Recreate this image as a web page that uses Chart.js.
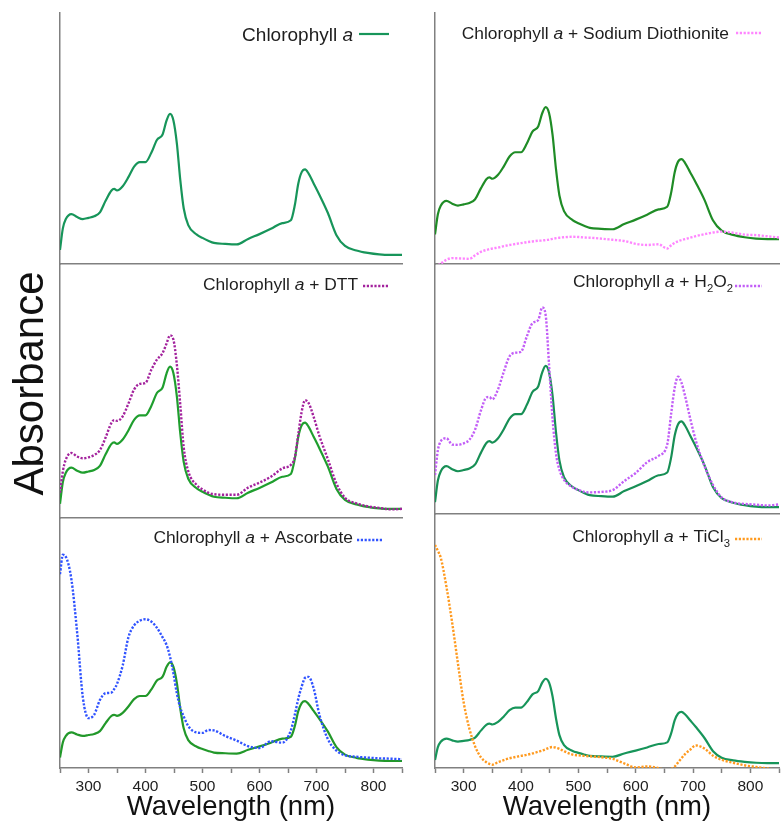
<!DOCTYPE html>
<html>
<head>
<meta charset="utf-8">
<title>Chlorophyll a absorbance spectra</title>
<script src="https://cdn.jsdelivr.net/npm/chart.js@4.4.1/dist/chart.umd.min.js"></script>
<style>
  html, body { margin: 0; padding: 0; background: #fff; }
  #figure { position: relative; width: 781px; height: 824px; overflow: hidden; }
  .panel { position: absolute; }
</style>
</head>
<body>
<div id="figure"></div>
<script>
// wavelength grid (nm) shared by every spectrum
const wavelengths = [
  250, 255, 260, 270, 280, 290, 300, 310, 320, 330,
  340, 345, 350, 360, 370, 380, 390, 400, 410, 420,
  430, 437, 443, 449, 455, 461, 467, 475, 490, 500,
  510, 520, 540, 560, 580, 600, 620, 640, 655, 662,
  668, 674, 680, 686, 695, 705, 720, 735, 750, 770,
  790, 810, 830, 850
];

// chlorophyll a alone (plotted in every panel)
const chlA = [
  0.056, 0.142, 0.178, 0.199, 0.187, 0.179, 0.184, 0.190, 0.206, 0.252,
  0.292, 0.299, 0.293, 0.310, 0.346, 0.388, 0.406, 0.406, 0.442, 0.494,
  0.516, 0.572, 0.598, 0.572, 0.481, 0.335, 0.222, 0.155, 0.117, 0.104,
  0.093, 0.084, 0.080, 0.078, 0.100, 0.119, 0.140, 0.163, 0.174, 0.235,
  0.320, 0.366, 0.377, 0.361, 0.321, 0.276, 0.203, 0.115, 0.072, 0.054,
  0.044, 0.038, 0.036, 0.036
];

const dithionite = [
  -0.085, -0.076, -0.068, -0.052, -0.045, -0.046, -0.047, -0.048, -0.033, -0.018,
  -0.010, -0.007, -0.004, 0.000, 0.006, 0.011, 0.015, 0.019, 0.023, 0.026,
  0.029, 0.030, 0.032, 0.034, 0.037, 0.040, 0.042, 0.044, 0.046, 0.045,
  0.043, 0.042, 0.038, 0.033, 0.028, 0.016, 0.011, 0.014, -0.004, 0.010,
  0.020, 0.027, 0.032, 0.036, 0.042, 0.049, 0.057, 0.064, 0.068, 0.063,
  0.055, 0.053, 0.048, 0.043
];

const dtt = [
  0.100, 0.185, 0.230, 0.257, 0.243, 0.236, 0.240, 0.249, 0.268, 0.318,
  0.375, 0.387, 0.384, 0.402, 0.452, 0.508, 0.530, 0.534, 0.585, 0.626,
  0.652, 0.690, 0.722, 0.705, 0.606, 0.448, 0.280, 0.185, 0.130, 0.113,
  0.100, 0.094, 0.092, 0.092, 0.120, 0.140, 0.163, 0.196, 0.210, 0.240,
  0.330, 0.420, 0.466, 0.455, 0.400, 0.325, 0.232, 0.136, 0.080, 0.058,
  0.046, 0.040, 0.034, 0.036
];

const peroxide = [
  0.164, 0.262, 0.298, 0.310, 0.285, 0.284, 0.290, 0.304, 0.345, 0.420,
  0.473, 0.474, 0.465, 0.505, 0.575, 0.636, 0.650, 0.654, 0.714, 0.768,
  0.780, 0.830, 0.800, 0.600, 0.390, 0.250, 0.185, 0.145, 0.115, 0.105,
  0.097, 0.095, 0.097, 0.104, 0.140, 0.172, 0.215, 0.240, 0.285, 0.410,
  0.510, 0.555, 0.530, 0.480, 0.390, 0.300, 0.200, 0.124, 0.075, 0.055,
  0.049, 0.046, 0.043, 0.047
];

const ascorbate = [
  1.100, 1.210, 1.200, 1.070, 0.770, 0.400, 0.280, 0.300, 0.383, 0.422,
  0.425, 0.445, 0.475, 0.580, 0.740, 0.808, 0.835, 0.843, 0.830, 0.795,
  0.740, 0.696, 0.630, 0.535, 0.421, 0.340, 0.290, 0.235, 0.198, 0.196,
  0.212, 0.210, 0.178, 0.152, 0.120, 0.110, 0.148, 0.140, 0.210, 0.300,
  0.390, 0.460, 0.510, 0.515, 0.450, 0.300, 0.160, 0.095, 0.068, 0.060,
  0.055, 0.051, 0.049, 0.046
];

const ticl3 = [
  1.490, 1.450, 1.405, 1.210, 0.970, 0.700, 0.440, 0.265, 0.147, 0.075,
  0.040, 0.030, 0.025, 0.042, 0.056, 0.068, 0.076, 0.084, 0.091, 0.100,
  0.111, 0.119, 0.128, 0.138, 0.143, 0.138, 0.131, 0.115, 0.092, 0.087,
  0.084, 0.081, 0.075, 0.064, 0.034, 0.007, 0.013, 0.002, -0.012, -0.004,
  0.012, 0.040, 0.068, 0.095, 0.125, 0.153, 0.133, 0.085, 0.058, 0.038,
  0.021, 0.010, 0.000, -0.010
];

const tickLabels = [300, 400, 500, 600, 700, 800];

const FONT = "'Liberation Sans', Arial, sans-serif";
const AXIS_GREY = "#808080";
const DOTS = [2.2, 1.6];

// one entry per panel; area is the plot box in page pixels
const panels = [
  {
    area: [60, 13, 402, 264], yMin: 0, yMax: 1, green: "#17955a",
    legend: { pieces: [["Chlorophyll ", ""], ["a", "italic"]], size: 19,
              textEnd: 49, baseline: 28, lineFrom: 43, lineTo: 13, lineY: 21 }
  },
  {
    area: [435, 13, 779, 264], yMin: -0.070, yMax: 0.999, green: "#1f8c26",
    extra: { data: dithionite, color: "#ff85ff" },
    legend: { pieces: [["Chlorophyll ", ""], ["a", "italic"], [" + Sodium Diothionite", ""]], size: 17.4,
              textEnd: 50, baseline: 26, lineFrom: 43, lineTo: 17, lineY: 20 }
  },
  {
    area: [60, 265, 402, 518], yMin: 0, yMax: 1, green: "#1f9e2e", padLeft: 60,
    extra: { data: dtt, color: "#a3229d" }, sideTitle: "Absorbance",
    legend: { pieces: [["Chlorophyll ", ""], ["a", "italic"], [" + DTT", ""]], size: 17.4,
              textEnd: 44, baseline: 25, lineFrom: 39, lineTo: 14, lineY: 21 }
  },
  {
    area: [435, 264, 779, 514], yMin: 0.009, yMax: 1.003, green: "#178f55",
    extra: { data: peroxide, color: "#c25ef7" },
    legend: { pieces: [["Chlorophyll ", ""], ["a", "italic"], [" + H", ""], ["2", "sub"], ["O", ""], ["2", "sub"]], size: 17.4,
              textEnd: 46, baseline: 23, lineFrom: 44, lineTo: 17, lineY: 22 }
  },
  {
    area: [60, 519, 402, 768], yMin: -0.004, yMax: 1.414, green: "#22982a", bottomAxis: true,
    extra: { data: ascorbate, color: "#3053ff" },
    legend: { pieces: [["Chlorophyll ", ""], ["a", "italic"], [" + Ascorbate", ""]], size: 17.4,
              textEnd: 49, baseline: 24, lineFrom: 45, lineTo: 20, lineY: 21 }
  },
  {
    area: [435, 514, 779, 768], yMin: 0.003, yMax: 1.696, green: "#17955a", bottomAxis: true,
    extra: { data: ticl3, color: "#ff9a1f" },
    legend: { pieces: [["Chlorophyll ", ""], ["a", "italic"], [" + TiCl", ""], ["3", "sub"]], size: 17.4,
              textEnd: 49, baseline: 28, lineFrom: 44, lineTo: 17, lineY: 25 }
  }
];

function points(values) {
  return wavelengths.map((w, i) => ({ x: w, y: values[i] }));
}

function pieceFont(piece, size) {
  const style = piece[1] === "italic" ? "italic " : "";
  const px = piece[1] === "sub" ? size * 0.65 : size;
  return style + px + "px " + FONT;
}

// legend text (italic a, subscripts) plus a short line sample, top right of each panel
const panelLegend = {
  id: "panelLegend",
  afterDraw(chart, args, opts) {
    if (!opts.pieces) return;
    const { ctx, chartArea } = chart;
    const size = opts.size;
    ctx.save();
    let width = 0;
    for (const p of opts.pieces) {
      ctx.font = pieceFont(p, size);
      width += ctx.measureText(p[0]).width;
    }
    let x = chartArea.right - opts.textEnd - width;
    const y = chartArea.top + opts.baseline;
    ctx.fillStyle = "#1e1e1e";
    ctx.textAlign = "left";
    ctx.textBaseline = "alphabetic";
    for (const p of opts.pieces) {
      ctx.font = pieceFont(p, size);
      ctx.fillText(p[0], x, p[1] === "sub" ? y + size * 0.3 : y);
      x += ctx.measureText(p[0]).width;
    }
    const ly = chartArea.top + opts.lineY;
    ctx.strokeStyle = opts.color;
    ctx.lineWidth = opts.dash ? 2.4 : 2.2;
    ctx.setLineDash(opts.dash || []);
    ctx.beginPath();
    ctx.moveTo(chartArea.right - opts.lineFrom, ly);
    ctx.lineTo(chartArea.right - opts.lineTo, ly);
    ctx.stroke();
    ctx.restore();
  }
};

// big rotated y label to the left of the middle panel
const sideTitle = {
  id: "sideTitle",
  afterDraw(chart, args, opts) {
    if (!opts.text) return;
    const { ctx, chartArea } = chart;
    ctx.save();
    ctx.translate(chartArea.left - 17, chartArea.top + 118.5);
    ctx.rotate(-Math.PI / 2);
    ctx.font = "42px " + FONT;
    ctx.fillStyle = "#111";
    ctx.textAlign = "center";
    ctx.textBaseline = "alphabetic";
    ctx.fillText(opts.text, 0, 0);
    ctx.restore();
  }
};

const figure = document.getElementById("figure");

panels.forEach(p => {
  const [x0, y0, x1, y1] = p.area;
  const pad = 4;
  const padLeft = p.padLeft || pad;
  const axisH = p.bottomAxis ? 824 - y1 : 0;

  const div = document.createElement("div");
  div.className = "panel";
  div.style.left = (x0 - padLeft) + "px";
  div.style.top = (y0 - pad) + "px";
  div.style.width = (x1 - x0 + padLeft + pad) + "px";
  div.style.height = (y1 - y0 + pad + (p.bottomAxis ? axisH : pad)) + "px";
  const canvas = document.createElement("canvas");
  div.appendChild(canvas);
  figure.appendChild(div);

  const datasets = [];
  if (p.extra) {
    datasets.push({
      data: points(p.extra.data),
      borderColor: p.extra.color,
      borderWidth: 2.4,
      borderDash: DOTS,
      borderCapStyle: "butt",
      pointRadius: 0,
      cubicInterpolationMode: "monotone"
    });
  }
  datasets.push({
    data: points(chlA),
    borderColor: p.green,
    borderWidth: 2.2,
    pointRadius: 0,
    cubicInterpolationMode: "monotone"
  });

  const legendOpts = Object.assign({}, p.legend, {
    color: p.extra ? p.extra.color : p.green,
    dash: p.extra ? DOTS : null
  });

  new Chart(canvas, {
    type: "line",
    data: { datasets: datasets },
    plugins: [panelLegend, sideTitle],
    options: {
      animation: false,
      responsive: true,
      maintainAspectRatio: false,
      devicePixelRatio: 1,
      events: [],
      layout: { padding: { left: padLeft, right: pad, top: pad, bottom: p.bottomAxis ? 0 : pad } },
      plugins: {
        legend: { display: false },
        tooltip: { enabled: false },
        panelLegend: legendOpts,
        sideTitle: { text: p.sideTitle || "" }
      },
      scales: {
        x: {
          type: "linear",
          min: 250,
          max: 850,
          border: { display: true, color: AXIS_GREY, width: 1.5 },
          grid: {
            display: !!p.bottomAxis,
            drawOnChartArea: false,
            drawTicks: true,
            tickLength: 5,
            tickWidth: 1.5,
            tickColor: AXIS_GREY
          },
          ticks: {
            display: !!p.bottomAxis,
            stepSize: 50,
            autoSkip: false,
            maxRotation: 0,
            padding: 4,
            color: "#222",
            font: { family: FONT, size: 15.5 },
            callback: v => (tickLabels.includes(v) ? String(v) : "")
          },
          title: {
            display: !!p.bottomAxis,
            text: "Wavelength (nm)",
            color: "#111",
            font: { family: FONT, size: 27.5 },
            padding: 0
          },
          afterFit: s => { s.height = axisH; }
        },
        y: {
          type: "linear",
          min: p.yMin,
          max: p.yMax,
          border: { display: true, color: AXIS_GREY, width: 1.5 },
          grid: { display: false },
          ticks: { display: false },
          afterFit: s => { s.width = 0; }
        }
      }
    }
  });
});
</script>
</body>
</html>
